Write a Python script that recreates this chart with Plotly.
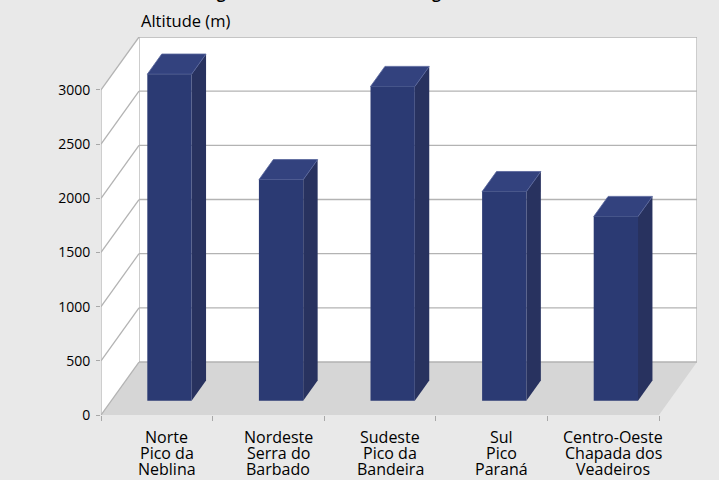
import plotly.graph_objects as go

# ---- data ----
regions = ["Norte", "Nordeste", "Sudeste", "Sul", "Centro-Oeste"]
peak_line1 = ["Pico da", "Serra do", "Pico da", "Pico", "Chapada dos"]
peak_line2 = ["Neblina", "Barbado", "Bandeira", "Paraná", "Veadeiros"]
altitudes = [3014, 2040, 2900, 1930, 1700]
y_ticks = [0, 500, 1000, 1500, 2000, 2500, 3000]
y_title = "Altitude (m)"
chart_title = "Altitude máxima registrada em cada uma das regiões"

# ---- oblique projection style ----
DX, DY = 0.3405, 489.0        # depth offset in axis units
U0, U1 = 0.323, 0.72          # bar extent inside category slot
D0, D1 = 0.27, 0.65           # bar depth extent (fraction of box depth)
YMAX = y_ticks[-1]
N = len(regions)

BG = "#E9E9E9"
GRID = "#B3B3B3"
FLOOR = "#D6D6D6"
FRONT = "#2B3A73"
SIDE = "#28325F"
TOP = "#33427E"
FONT = "Open Sans"

fig = go.Figure()


def poly(xs, ys, fill, line_color=None, line_width=0):
    fig.add_trace(go.Scatter(
        x=list(xs) + [xs[0]], y=list(ys) + [ys[0]], mode="lines", fill="toself",
        fillcolor=fill, line=dict(color=line_color or fill, width=line_width),
        hoverinfo="skip", showlegend=False))


def seg(x0, y0, x1, y1, color=GRID, width=1.3):
    fig.add_trace(go.Scatter(x=[x0, x1], y=[y0, y1], mode="lines",
                             line=dict(color=color, width=width),
                             hoverinfo="skip", showlegend=False))


# floor
poly([0, N, N + DX, DX], [0, 0, DY, DY], FLOOR)
# back wall
poly([DX, N + DX, N + DX, DX], [DY, DY, YMAX + DY, YMAX + DY], "white", GRID, 1.3)
# left wall
poly([0, DX, DX, 0], [0, DY, YMAX + DY, YMAX], "white")

# gridlines
for v in y_ticks:
    seg(0, v, DX, v + DY)
    if 0 < v < YMAX:
        seg(DX, v + DY, N + DX, v + DY)
seg(0, 0, 0, YMAX)


def p(i, u, d, h):
    return i + u + d * DX, h + d * DY


for i, v in enumerate(altitudes):
    pts = [p(i, U1, D0, 0), p(i, U1, D1, 0), p(i, U1, D1, v), p(i, U1, D0, v)]
    poly([a for a, b in pts], [b for a, b in pts], SIDE)
    pts = [p(i, U0, D0, v), p(i, U1, D0, v), p(i, U1, D1, v), p(i, U0, D1, v)]
    poly([a for a, b in pts], [b for a, b in pts], TOP, "#56639A", 0.8)
    pts = [p(i, U0, D0, 0), p(i, U1, D0, 0), p(i, U1, D0, v), p(i, U0, D0, v)]
    poly([a for a, b in pts], [b for a, b in pts], FRONT)

annotations = []
for i in range(N):
    for k, txt in enumerate([regions[i], peak_line1[i], peak_line2[i]]):
        annotations.append(dict(
            x=i + 0.59, y=0, xref="x", yref="y", text=txt,
            showarrow=False, yanchor="middle", yshift=-22 - 16 * k,
            font=dict(family=FONT, size=16, color="black")))

annotations.append(dict(
    x=DX, y=YMAX + DY, xref="x", yref="y", text=y_title, showarrow=False,
    xanchor="left", yanchor="bottom", yshift=3,
    font=dict(family=FONT, size=16.5, color="black")))

annotations.append(dict(
    x=-0.052, y=YMAX + DY, xref="paper", yref="y", text=f"<b>{chart_title}</b>",
    showarrow=False, xanchor="left", yanchor="bottom", yshift=32,
    font=dict(family=FONT, size=15, color="black")))

fig.update_layout(
    width=719, height=480,
    margin=dict(l=101, r=22, t=37, b=65),
    paper_bgcolor=BG, plot_bgcolor=BG,
    font=dict(family=FONT, size=14, color="black"),
    annotations=annotations,
    xaxis=dict(range=[0, N + DX], tickvals=list(range(N + 1)),
               ticktext=[""] * (N + 1), ticks="outside", ticklen=5,
               tickcolor="#A8A8A8", tickwidth=1.3, showgrid=False,
               zeroline=False, showline=False, fixedrange=True),
    yaxis=dict(range=[0, YMAX + DY], tickvals=y_ticks, ticks="outside",
               ticklen=4, tickcolor="#A8A8A8", tickwidth=1.3, showgrid=False,
               zeroline=False, showline=False, fixedrange=True,
               ticklabelstandoff=3,
               tickfont=dict(family=FONT, size=14, color="black")),
    showlegend=False,
)

fig.write_html("out.html")
